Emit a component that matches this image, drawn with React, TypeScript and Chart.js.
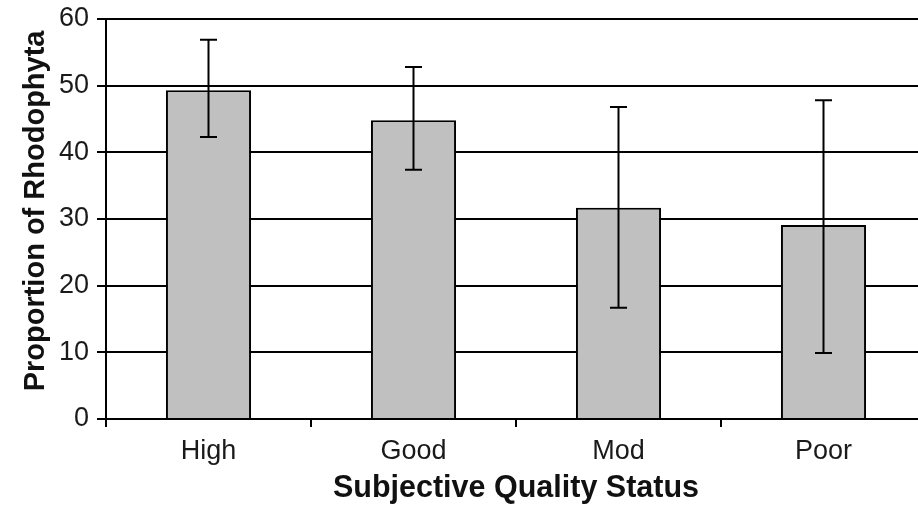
import React, { useEffect, useRef } from "react";
import { Chart, registerables } from "chart.js";

Chart.register(...registerables);

const categories = ["High", "Good", "Mod", "Poor"];
const means = [49.3, 44.8, 31.7, 29.1];
const errLow = [42.3, 37.4, 16.7, 9.9];
const errHigh = [56.9, 52.8, 46.8, 47.8];
const yTicks = [0, 10, 20, 30, 40, 50, 60];

const errorBarPlugin = {
  id: "errorBars",
  afterDatasetsDraw(chart: any) {
    const ctx = chart.ctx;
    const meta = chart.getDatasetMeta(0);
    const y = chart.scales.y;
    ctx.save();
    ctx.strokeStyle = "#000";
    ctx.lineWidth = 2;
    meta.data.forEach((bar: any, i: number) => {
      const x = bar.x;
      const yTop = y.getPixelForValue(errHigh[i]);
      const yBot = y.getPixelForValue(errLow[i]);
      const cap = 8.5;
      ctx.beginPath();
      ctx.moveTo(x, yTop);
      ctx.lineTo(x, yBot);
      ctx.moveTo(x - cap, yTop);
      ctx.lineTo(x + cap, yTop);
      ctx.moveTo(x - cap, yBot);
      ctx.lineTo(x + cap, yBot);
      ctx.stroke();
    });
    ctx.restore();
  },
};

export default function App() {
  const ref = useRef<HTMLCanvasElement>(null);
  useEffect(() => {
    document.body.style.margin = "0";
    document.body.style.overflow = "hidden";
    const font = "'Liberation Sans', Arial, Helvetica, sans-serif";
    const chart = new Chart(ref.current!, {
      type: "bar",
      data: {
        labels: categories,
        datasets: [
          {
            data: means,
            backgroundColor: "#c0c0c0",
            borderColor: "#000",
            borderWidth: 2,
            barPercentage: 0.415,
            categoryPercentage: 1,
          },
        ],
      },
      options: {
        animation: false,
        responsive: false,
        maintainAspectRatio: false,
        layout: { padding: { left: 0, right: 0, top: 19, bottom: 0 } },
        plugins: { legend: { display: false }, tooltip: { enabled: false } },
        scales: {
          x: {
            offset: true,
            afterFit: (s: any) => {
              s.height = 89;
            },
            grid: {
              offset: true,
              drawOnChartArea: false,
              drawTicks: true,
              tickLength: 8,
              color: "#000",
              lineWidth: 2,
            },
            border: { color: "#000", width: 2 },
            ticks: {
              color: "#1a1a1a",
              font: { family: font, size: 27 },
              padding: 8,
            },
            title: {
              display: true,
              text: "Subjective Quality Status",
              color: "#111",
              font: { family: font, size: 30.5, weight: "bold" },
              padding: { top: 0, bottom: 1 },
            },
          },
          y: {
            min: 0,
            max: 60,
            afterFit: (s: any) => {
              s.width = 106;
            },
            afterBuildTicks: (s: any) => {
              s.ticks = yTicks.map((v) => ({ value: v }));
            },
            grid: {
              color: "#000",
              lineWidth: 2,
              tickLength: 9,
              drawTicks: true,
            },
            border: { color: "#000", width: 2 },
            ticks: {
              color: "#1a1a1a",
              font: { family: font, size: 27, lineHeight: 0.8 },
              padding: 8,
            },
            title: {
              display: true,
              text: "  Proportion of Rhodophyta",
              color: "#111",
              font: { family: font, size: 29, weight: "bold" },
              padding: { top: 19, bottom: 0 },
            },
          },
        },
      },
      plugins: [errorBarPlugin],
    });
    return () => chart.destroy();
  }, []);
  return (
    <div style={{ width: 918, height: 508, overflow: "hidden", position: "relative" }}>
      <canvas ref={ref} width={926} height={508} style={{ display: "block", width: 926, height: 508 }} />
    </div>
  );
}
